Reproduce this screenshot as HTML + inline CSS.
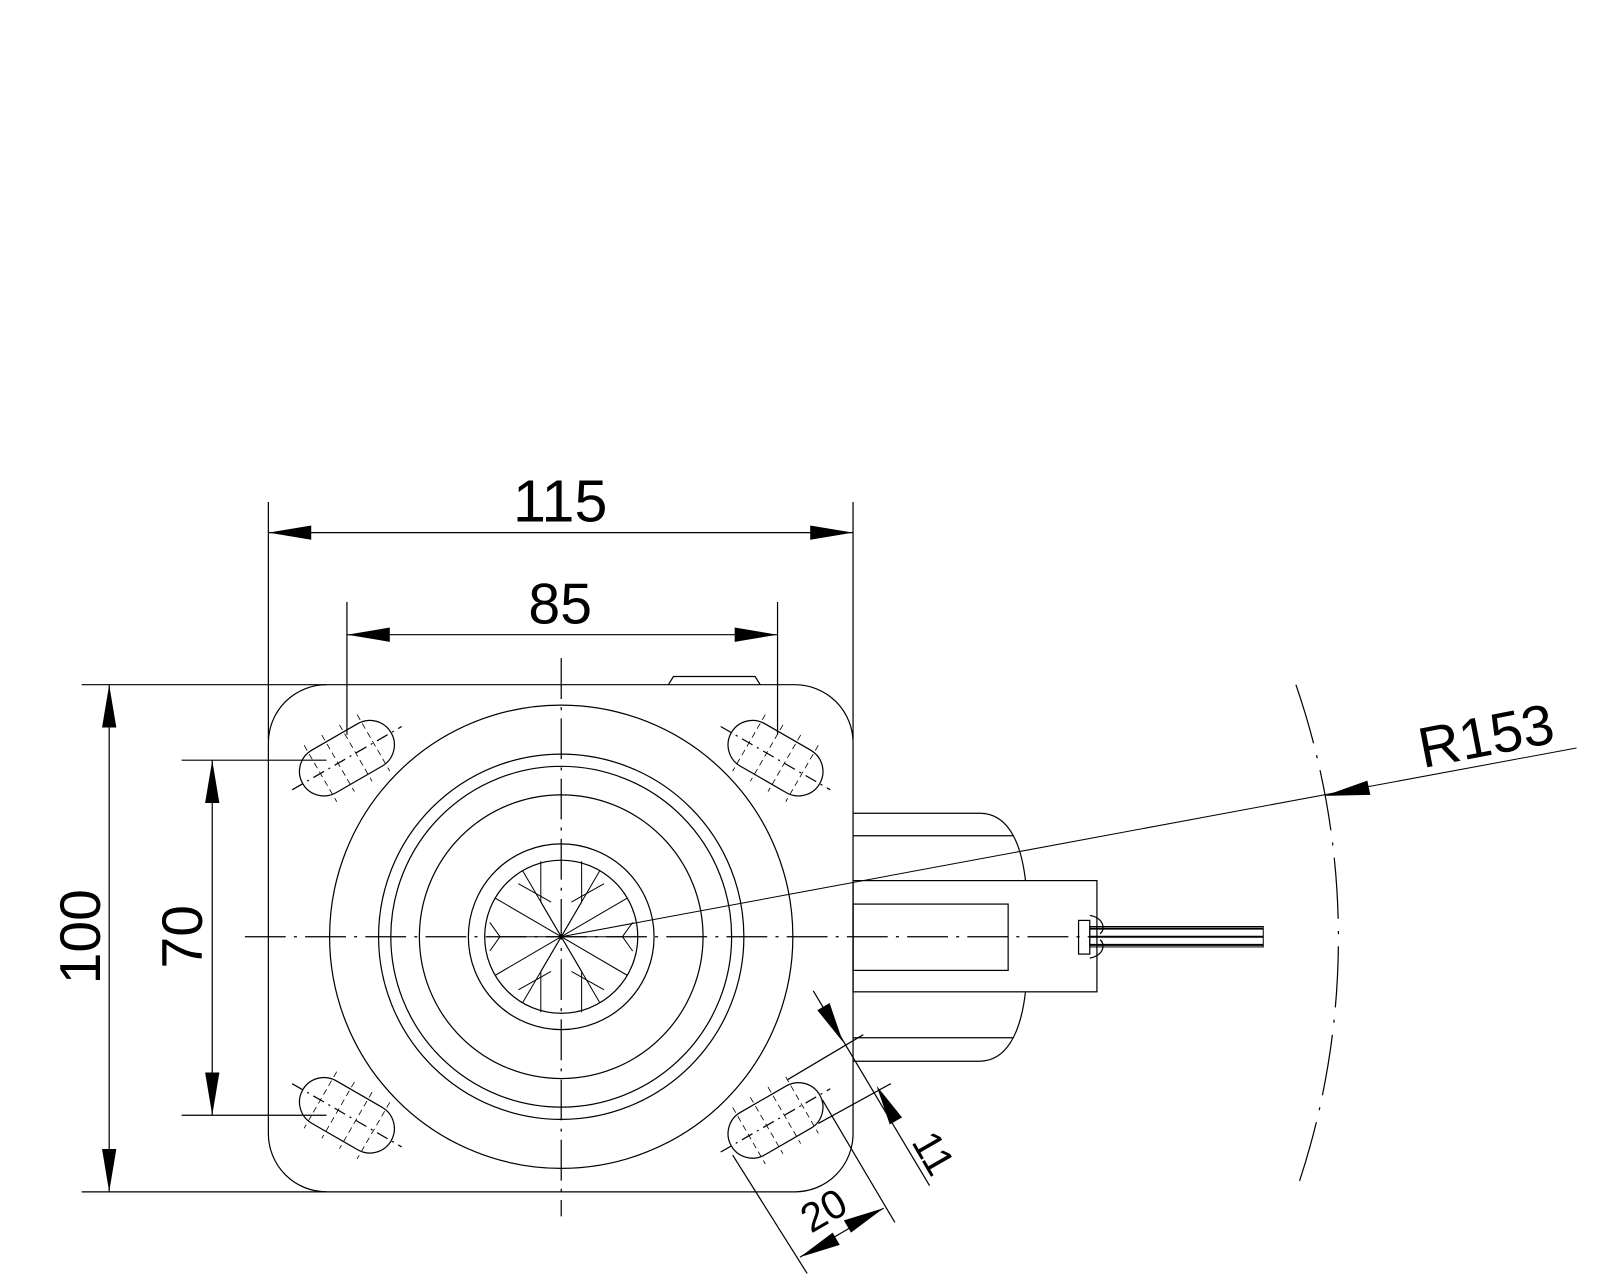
<!DOCTYPE html>
<html><head><meta charset="utf-8"><style>
html,body{margin:0;padding:0;background:#fff;width:1600px;height:1280px;overflow:hidden}
svg{display:block}
text{font-family:"Liberation Sans",sans-serif;fill:#000}
</style></head><body>
<svg width="1600" height="1280" viewBox="0 0 1600 1280" xmlns="http://www.w3.org/2000/svg">
<defs>
<g id="s" stroke="#000" fill="none" stroke-width="1.2">
<rect x="-50" y="-24" width="100" height="48" rx="24"/>
<line x1="-62" y1="0" x2="62" y2="0" stroke-dasharray="12,5,2,5"/>
<g stroke-width="0.8" stroke-dasharray="6,4">
<line x1="-30" y1="-32" x2="-30" y2="32"/><line x1="-10" y1="-32" x2="-10" y2="32"/>
<line x1="10" y1="-32" x2="10" y2="32"/><line x1="30" y1="-32" x2="30" y2="32"/>
</g>
</g>
</defs>
<g transform="scale(1.0204)" stroke="#000" stroke-width="1.2" fill="none">
<g stroke-dasharray="40,8,3,8">
<line x1="240" y1="918" x2="1240" y2="918"/>
<line x1="550" y1="645" x2="550" y2="1192"/>
<path d="M1270,671 A762,762 0 0 1 1270,1168" stroke-dasharray="60,12,3,12"/>
</g>
<rect x="263" y="671" width="573" height="497" rx="57" ry="57"/>
<path d="M655,671 L660,663 L740,663 L745,671"/>
<circle cx="550" cy="918" r="227"/>
<circle cx="550" cy="918" r="179"/>
<circle cx="550" cy="918" r="167"/>
<circle cx="550" cy="918" r="139"/>
<circle cx="550" cy="918" r="91"/>
<circle cx="550" cy="918" r="75"/>
<g stroke-width="1">
<line x1="550" y1="918" x2="615" y2="880"/><line x1="550" y1="918" x2="485" y2="956"/>
<line x1="550" y1="918" x2="615" y2="956"/><line x1="550" y1="918" x2="485" y2="880"/>
<line x1="550" y1="918" x2="588" y2="853"/><line x1="550" y1="918" x2="512" y2="983"/>
<line x1="550" y1="918" x2="588" y2="983"/><line x1="550" y1="918" x2="512" y2="853"/>
<line x1="530" y1="844" x2="530" y2="884"/><line x1="570" y1="844" x2="570" y2="884"/>
<line x1="530" y1="952" x2="530" y2="992"/><line x1="570" y1="952" x2="570" y2="992"/>
<line x1="530" y1="884" x2="550" y2="918"/><line x1="570" y1="884" x2="550" y2="918"/>
<line x1="530" y1="952" x2="550" y2="918"/><line x1="570" y1="952" x2="550" y2="918"/>
<line x1="490" y1="918" x2="550" y2="918"/><line x1="610" y1="918" x2="550" y2="918"/>
<line x1="480" y1="904" x2="490" y2="918"/><line x1="480" y1="932" x2="490" y2="918"/>
<line x1="620" y1="904" x2="610" y2="918"/><line x1="620" y1="932" x2="610" y2="918"/>
<line x1="508" y1="866" x2="540" y2="884"/><line x1="592" y1="866" x2="560" y2="884"/>
<line x1="508" y1="970" x2="540" y2="952"/><line x1="592" y1="970" x2="560" y2="952"/>
<line x1="550" y1="918" x2="1545" y2="733"/>
</g>
<use href="#s" transform="translate(340,743) rotate(-30)"/>
<use href="#s" transform="translate(760,743) rotate(30)"/>
<use href="#s" transform="translate(340,1093) rotate(30)"/>
<use href="#s" transform="translate(760,1098) rotate(-30)"/>
<line x1="836" y1="797" x2="960" y2="797"/>
<line x1="836" y1="819" x2="993" y2="819"/>
<path d="M960,797 C985,797 1000,820 1005,863"/>
<line x1="836" y1="1040" x2="960" y2="1040"/>
<line x1="836" y1="1017" x2="993" y2="1017"/>
<path d="M960,1040 C985,1040 1000,1015 1005,972"/>
<rect x="836" y="863" width="239" height="109"/>
<rect x="836" y="886" width="152" height="65"/>
<rect x="1057" y="902" width="11" height="33"/>
<path d="M1068,897 C1083,900 1083,912 1078,915 M1068,939 C1083,936 1083,924 1078,921"/>
<g stroke-width="2"><line x1="1068" y1="910" x2="1238" y2="910"/><line x1="1068" y1="918" x2="1238" y2="918"/><line x1="1068" y1="926" x2="1238" y2="926"/></g>
<rect x="1068" y="908" width="170" height="20" stroke-width="1"/>
<line x1="263" y1="492" x2="263" y2="725"/><line x1="836" y1="492" x2="836" y2="725"/>
<line x1="263" y1="522" x2="836" y2="522"/>
<line x1="340" y1="590" x2="340" y2="720"/><line x1="762" y1="590" x2="762" y2="720"/>
<line x1="340" y1="622" x2="762" y2="622"/>
<line x1="80" y1="671" x2="320" y2="671"/><line x1="80" y1="1168" x2="320" y2="1168"/>
<line x1="107" y1="671" x2="107" y2="1168"/>
<line x1="178" y1="745" x2="320" y2="745"/><line x1="178" y1="1093" x2="320" y2="1093"/>
<line x1="208" y1="745" x2="208" y2="1093"/>
<line x1="718" y1="1132" x2="791" y2="1248"/><line x1="806" y1="1078" x2="877" y2="1198"/>
<line x1="784" y1="1232" x2="866" y2="1184"/>
<line x1="772" y1="1058" x2="846" y2="1014"/><line x1="802" y1="1101" x2="873" y2="1062"/>
<line x1="797" y1="971" x2="911" y2="1162"/>
<g fill="#000" stroke="none">
<polygon points="263,522 305,515 305,529"/><polygon points="836,522 794,515 794,529"/>
<polygon points="340,622 382,615 382,629"/><polygon points="762,622 720,615 720,629"/>
<polygon points="107,671 100,713 114,713"/><polygon points="107,1168 100,1126 114,1126"/>
<polygon points="208,745 201,787 215,787"/><polygon points="208,1093 201,1051 215,1051"/>
<polygon points="1298,780 1340,765 1343,779"/>
<polygon points="784,1232 816,1208 823,1220"/><polygon points="866,1184 834,1208 827,1196"/>
<polygon points="826,1021 801,990 813,983"/><polygon points="859,1064 884,1095 872,1102"/>
</g>
</g>
<g transform="scale(1.0204)">
<text x="549" y="511" font-size="58" text-anchor="middle">115</text>
<text x="549" y="611" font-size="56" text-anchor="middle">85</text>
<text transform="translate(98,918) rotate(-90)" font-size="56" text-anchor="middle">100</text>
<text transform="translate(198,918) rotate(-90)" font-size="56" text-anchor="middle">70</text>
<text transform="translate(1460,740) rotate(-11)" font-size="56" text-anchor="middle">R153</text>
<text transform="translate(814,1198) rotate(-30)" font-size="40" text-anchor="middle">20</text>
<text transform="translate(903,1137) rotate(60)" font-size="40" text-anchor="middle">11</text>
</g>
</svg>
</body></html>
